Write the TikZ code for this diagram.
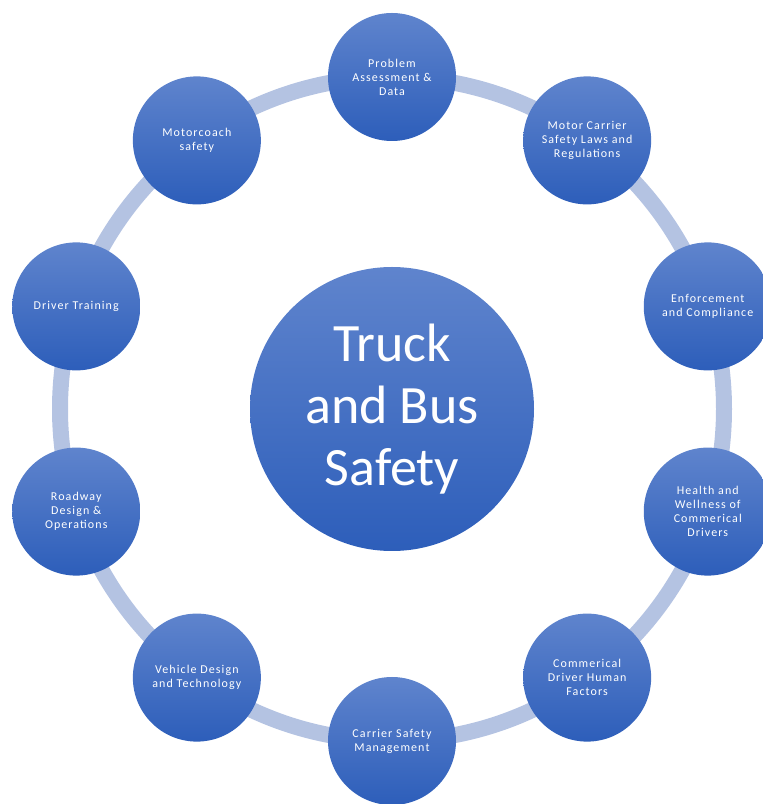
\documentclass[tikz,border=0pt]{standalone}
\usepackage{fontspec}
\setmainfont{Carlito}
\newfontfamily\spacedfont[LetterSpace=9]{Carlito}
\usepackage{tikz}

\definecolor{ringblue}{RGB}{180,195,226}
\definecolor{discTop}{RGB}{95,132,205}
\definecolor{discBottom}{RGB}{45,94,186}

\tikzset{
  disc/.style={circle,inner sep=0pt,minimum size=128pt,
    top color=discTop,bottom color=discBottom,
    text=white,align=center,font=\spacedfont\fontsize{12}{14}\selectfont},
  hubdisc/.style={disc,minimum size=284pt,font=\rmfamily\fontsize{54}{62}\selectfont}
}

\begin{document}
\begin{tikzpicture}[x=1pt,y=1pt]
	\pgfmathsetmacro{\ringr}{332}
	\useasboundingbox (0,0) rectangle (763,804);
	\clip (0,0) rectangle (763,804);
	\coordinate (hub) at (392,395);
	\draw[ringblue,line width=16pt] (hub) circle (\ringr);
	\node[hubdisc] (safety) at (hub) {Truck\\and Bus\\Safety};
	\foreach \name/\txt [count=\i from 0] in {
		data/{Problem\\Assessment \&\\Data},
		laws/{Motor Carrier\\Safety Laws and\\Regulations},
		enforce/{Enforcement\\and Compliance},
		health/{Health and\\Wellness of\\Commerical\\Drivers},
		human/{Commerical\\Driver Human\\Factors},
		carrier/{Carrier Safety\\Management},
		vehicle/{Vehicle Design\\and Technology},
		roadway/{Roadway\\Design \&\\Operations},
		training/{Driver Training},
		coach/{Motorcoach\\safety}}
		\node[disc] (\name) at ([shift={(90-36*\i:\ringr)}]hub) {\txt};
\end{tikzpicture}
\end{document}
